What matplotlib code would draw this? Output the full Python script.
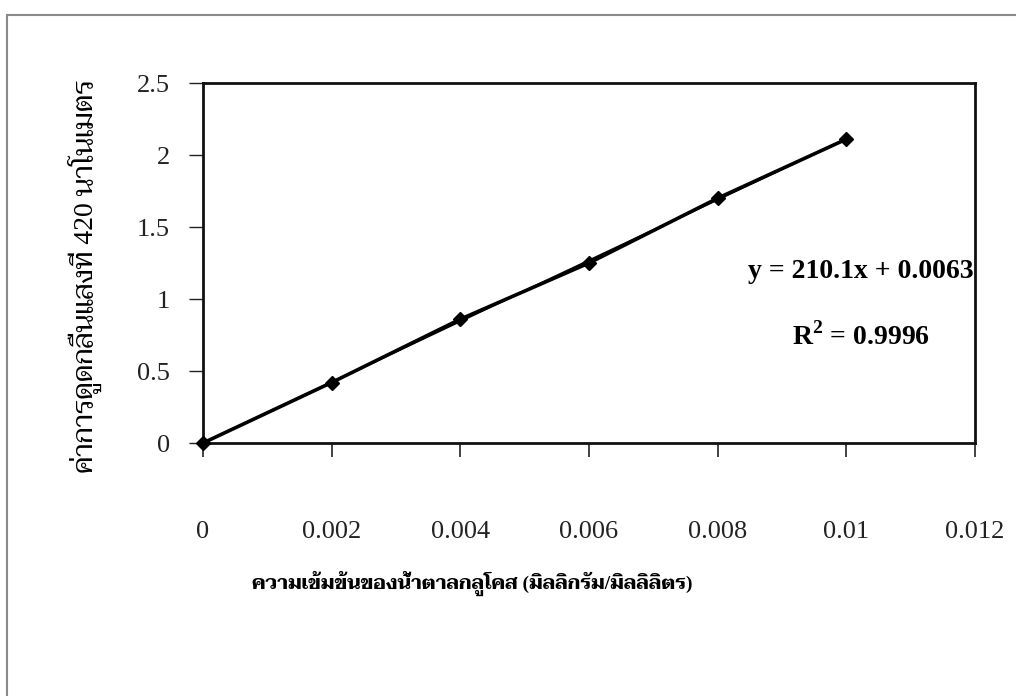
import matplotlib
matplotlib.use("Agg")
import matplotlib.pyplot as plt
import numpy as np
from matplotlib.lines import Line2D

# Glucose standard curve data
concentration = [0, 0.002, 0.004, 0.006, 0.008, 0.01]
absorbance = [0, 0.42, 0.86, 1.25, 1.70, 2.11]
x_ticks = [0, 0.002, 0.004, 0.006, 0.008, 0.01, 0.012]
x_tick_labels = ["0", "0.002", "0.004", "0.006", "0.008", "0.01", "0.012"]
y_ticks = [0, 0.5, 1, 1.5, 2, 2.5]
y_tick_labels = ["0", "0.5", "1", "1.5", "2", "2.5"]
equation_text = "y = 210.1x + 0.0063"
r2_text = "R$^{2}$ = 0.9996"
x_title = "ความเข้มข้นของน้ำตาลกลูโคส (มิลลิกรัม/มิลลิลิตร)"
y_title = "ค่าการดูดกลืนแสงที่ 420 นาโนเมตร"

fonts = ["Liberation Serif", "Taviraj", "DejaVu Sans"]
plt.rcParams["font.family"] = fonts
plt.rcParams["mathtext.fontset"] = "custom"
plt.rcParams["mathtext.rm"] = "Liberation Serif:bold"
plt.rcParams["mathtext.bf"] = "Liberation Serif:bold"

fig = plt.figure(figsize=(10.16, 6.96), dpi=100)
ax = fig.add_axes([203 / 1016, 1 - 443 / 696, 772 / 1016, 360 / 696])

# Data line with diamond markers
ax.plot(concentration, absorbance, color="black", linewidth=2.6, marker="D",
        markersize=7, markerfacecolor="black", clip_on=False, zorder=3)

# Linear trendline fitted from the data
slope, intercept = np.polyfit(concentration, absorbance, 1)
fit_x = np.array([concentration[0], concentration[-1]])
ax.plot(fit_x, slope * fit_x + intercept, color="black", linewidth=1.5, zorder=2)

ax.set_xlim(0, 0.012)
ax.set_ylim(0, 2.5)
ax.set_xticks(x_ticks)
ax.set_xticklabels(x_tick_labels)
ax.set_yticks(y_ticks)
ax.set_yticklabels(y_tick_labels)

for side in ["left", "bottom", "right", "top"]:
    ax.spines[side].set_linewidth(2.0)
    ax.spines[side].set_color("#111111")

ax.tick_params(axis="x", direction="out", length=10, width=1.2, pad=46,
               labelsize=19, colors="#222222")
ax.tick_params(axis="y", direction="out", length=10, width=1.0, pad=14,
               labelsize=19, colors="#222222")

ax.text(0.00847, 1.19, equation_text, fontsize=20, fontweight="bold",
        ha="left", va="center", family="Liberation Serif")
ax.text(0.00915, 0.74, r2_text, fontsize=20, fontweight="bold",
        ha="left", va="center", family="Liberation Serif")

fig.text(472 / 1016, 1 - 583 / 696, x_title, fontsize=14, fontweight="bold",
         ha="center", va="center")
fig.text(85 / 1016, 1 - 276 / 696, y_title, fontsize=20, rotation=90,
         ha="center", va="center")

# Scanned page frame (top and left edges)
fig.add_artist(Line2D([7 / 1016, 1], [1 - 15 / 696, 1 - 15 / 696],
                      transform=fig.transFigure, color="#8a8a8a", linewidth=1.5))
fig.add_artist(Line2D([7 / 1016, 7 / 1016], [0, 1 - 15 / 696],
                      transform=fig.transFigure, color="#8a8a8a", linewidth=1.5))

fig.savefig("out.png", dpi=100, facecolor="white")
